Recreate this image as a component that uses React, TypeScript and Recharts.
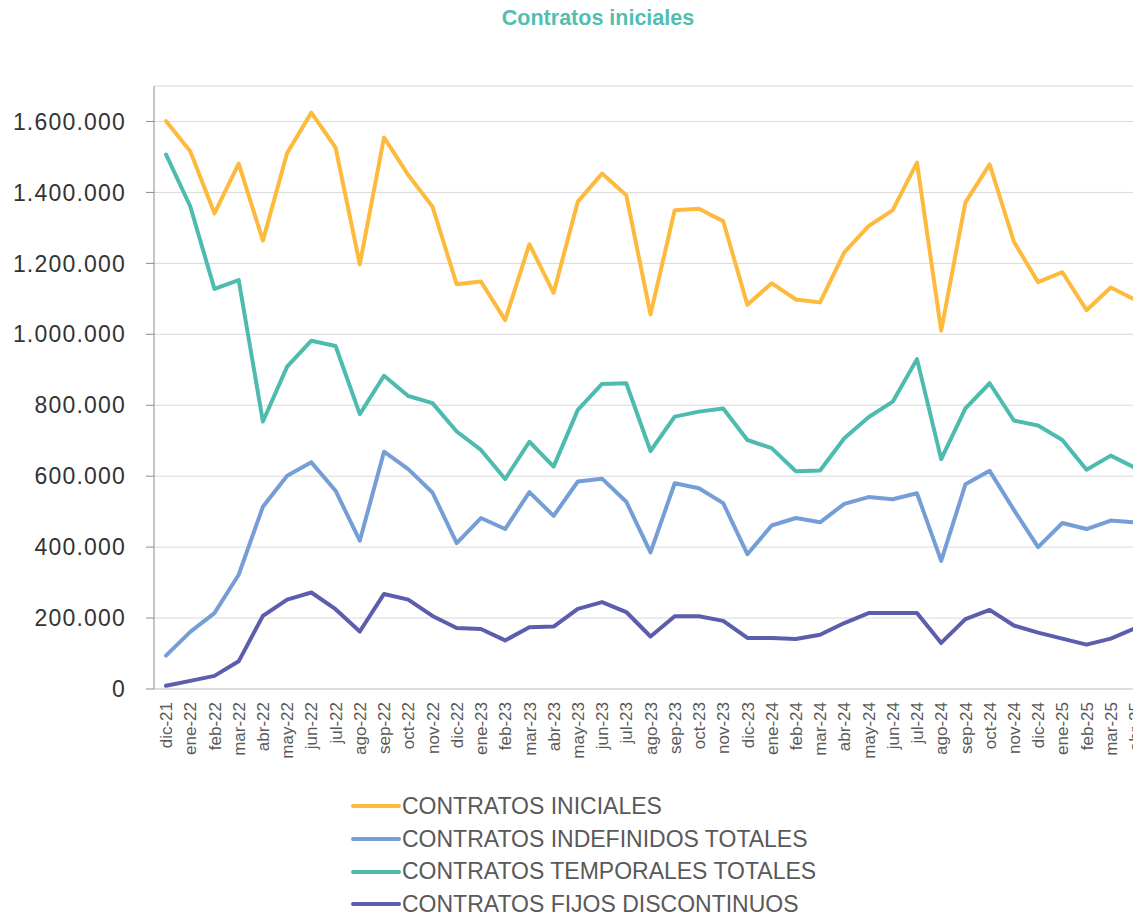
import React from 'react';
import { LineChart, Line, XAxis, YAxis, CartesianGrid, Legend } from 'recharts';

const months = [
  'dic-21', 'ene-22', 'feb-22', 'mar-22', 'abr-22', 'may-22', 'jun-22', 'jul-22', 'ago-22', 'sep-22', 'oct-22', 'nov-22',
  'dic-22', 'ene-23', 'feb-23', 'mar-23', 'abr-23', 'may-23', 'jun-23', 'jul-23', 'ago-23', 'sep-23', 'oct-23', 'nov-23',
  'dic-23', 'ene-24', 'feb-24', 'mar-24', 'abr-24', 'may-24', 'jun-24', 'jul-24', 'ago-24', 'sep-24', 'oct-24', 'nov-24',
  'dic-24', 'ene-25', 'feb-25', 'mar-25', 'abr-25',
];

const iniciales = [
  1601000, 1516000, 1341000, 1481000, 1264000, 1511000, 1625000, 1526000, 1197000, 1555000, 1449000, 1360000,
  1141000, 1149000, 1040000, 1254000, 1117000, 1374000, 1453000, 1392000, 1056000, 1350000, 1354000, 1319000,
  1083000, 1144000, 1098000, 1090000, 1231000, 1305000, 1350000, 1484000, 1010000, 1372000, 1479000, 1261000,
  1147000, 1175000, 1068000, 1132000, 1097000,
];

const indefinidos = [
  94000, 161000, 214000, 322000, 514000, 601000, 639000, 559000, 418000, 669000, 620000, 554000,
  411000, 482000, 451000, 555000, 488000, 585000, 593000, 528000, 385000, 580000, 566000, 524000,
  380000, 461000, 482000, 470000, 522000, 541000, 535000, 552000, 361000, 577000, 615000, 505000,
  400000, 468000, 451000, 475000, 470000,
];

const temporales = [
  1507000, 1361000, 1128000, 1153000, 754000, 909000, 982000, 967000, 775000, 883000, 826000, 806000,
  726000, 674000, 592000, 697000, 627000, 787000, 860000, 862000, 671000, 768000, 782000, 791000,
  702000, 679000, 614000, 616000, 707000, 766000, 810000, 930000, 648000, 791000, 862000, 757000,
  743000, 702000, 618000, 658000, 624000,
];

const fijos = [
  9000, 23000, 37000, 78000, 206000, 252000, 272000, 225000, 162000, 268000, 252000, 206000,
  172000, 169000, 137000, 174000, 176000, 226000, 245000, 217000, 148000, 205000, 205000, 192000,
  144000, 144000, 141000, 153000, 186000, 214000, 214000, 214000, 130000, 197000, 223000, 179000,
  159000, 142000, 125000, 142000, 171000,
];

const yTicks = [0, 200000, 400000, 600000, 800000, 1000000, 1200000, 1400000, 1600000];

const seriesNames = [
  'CONTRATOS INICIALES',
  'CONTRATOS INDEFINIDOS TOTALES',
  'CONTRATOS TEMPORALES TOTALES',
  'CONTRATOS FIJOS DISCONTINUOS',
];

const seriesColors = ['#FDBA3D', '#769ED6', '#4DBBAD', '#5B5DAD'];

const data = months.map((m, i) => ({
  month: m,
  iniciales: iniciales[i],
  indefinidos: indefinidos[i],
  temporales: temporales[i],
  fijos: fijos[i],
}));

const fmt = (v: number) => String(v).replace(/\B(?=(\d{3})+(?!\d))/g, '.');

const XTick = (props: any) => {
  const { x, payload } = props;
  return (
    <g transform={`translate(${x},${702})`}>
      <text
        transform="rotate(-90)"
        textAnchor="end"
        dy="0.36em"
        fill="#595959"
        fontSize={17}
        fontFamily="'Liberation Sans', Arial, sans-serif"
      >
        {payload.value}
      </text>
    </g>
  );
};

const LegendContent = (props: any) => {
  const payload = [...(props.payload || [])].sort(
    (a: any, b: any) => seriesNames.indexOf(a.value) - seriesNames.indexOf(b.value)
  );
  return (
    <div style={{ fontFamily: "'Liberation Sans', Arial, sans-serif" }}>
      {payload.map((item: any, i: number) => (
        <div key={i} style={{ display: 'flex', alignItems: 'center', height: 32.7 }}>
          <svg width={50} height={8} style={{ display: 'block' }}>
            <line x1={2} y1={4} x2={48} y2={4} stroke={item.color} strokeWidth={4} strokeLinecap="round" />
          </svg>
          <span style={{ fontSize: 23, color: '#595959', marginLeft: 1, whiteSpace: 'nowrap' }}>{item.value}</span>
        </div>
      ))}
    </div>
  );
};

export default function App() {
  return (
    <div style={{ position: 'fixed', left: 0, top: 0, width: 1133, height: 914, overflow: 'hidden', background: '#fff' }}>
      <div
        style={{
          position: 'absolute',
          left: 0,
          width: 1196,
          top: 6,
          textAlign: 'center',
          color: '#52BEB0',
          fontWeight: 'bold',
          fontSize: 21.5,
          fontFamily: "'Liberation Sans', Arial, sans-serif",
        }}
      >
        Contratos iniciales
      </div>
      <LineChart
        width={1170}
        height={914}
        data={data}
        margin={{ top: 86, right: 23, bottom: 0, left: 0 }}
      >
        <CartesianGrid horizontal={true} vertical={false} stroke="#D9D9D9" strokeWidth={1} />
        <XAxis
          dataKey="month"
          interval={0}
          tickLine={false}
          axisLine={{ stroke: '#D9D9D9', strokeWidth: 1.5 }}
          height={225}
          padding={{ left: 12, right: 12 }}
          tick={<XTick />}
        />
        <YAxis
          width={154}
          domain={[0, 1700000]}
          ticks={yTicks}
          tickFormatter={fmt}
          axisLine={{ stroke: '#8C8C8C', strokeWidth: 1 }}
          tickLine={{ stroke: '#8C8C8C' }}
          tickSize={8}
          tickMargin={20}
          tick={{ fill: '#333333', fontSize: 23, fontFamily: "'Liberation Sans', Arial, sans-serif", letterSpacing: 1.2 }}
          allowDataOverflow={true}
        />
        <Legend
          layout="vertical"
          verticalAlign="middle"
          align="center"
          content={<LegendContent />}
          wrapperStyle={{ position: 'absolute', left: 351, top: 790, width: 'auto', height: 'auto' }}
        />
        <Line type="linear" dataKey="iniciales" name={seriesNames[0]} stroke={seriesColors[0]} strokeWidth={4} dot={false} strokeLinejoin="round" strokeLinecap="round" isAnimationActive={false} />
        <Line type="linear" dataKey="indefinidos" name={seriesNames[1]} stroke={seriesColors[1]} strokeWidth={4} dot={false} strokeLinejoin="round" strokeLinecap="round" isAnimationActive={false} />
        <Line type="linear" dataKey="temporales" name={seriesNames[2]} stroke={seriesColors[2]} strokeWidth={4} dot={false} strokeLinejoin="round" strokeLinecap="round" isAnimationActive={false} />
        <Line type="linear" dataKey="fijos" name={seriesNames[3]} stroke={seriesColors[3]} strokeWidth={4} dot={false} strokeLinejoin="round" strokeLinecap="round" isAnimationActive={false} />
      </LineChart>
    </div>
  );
}
